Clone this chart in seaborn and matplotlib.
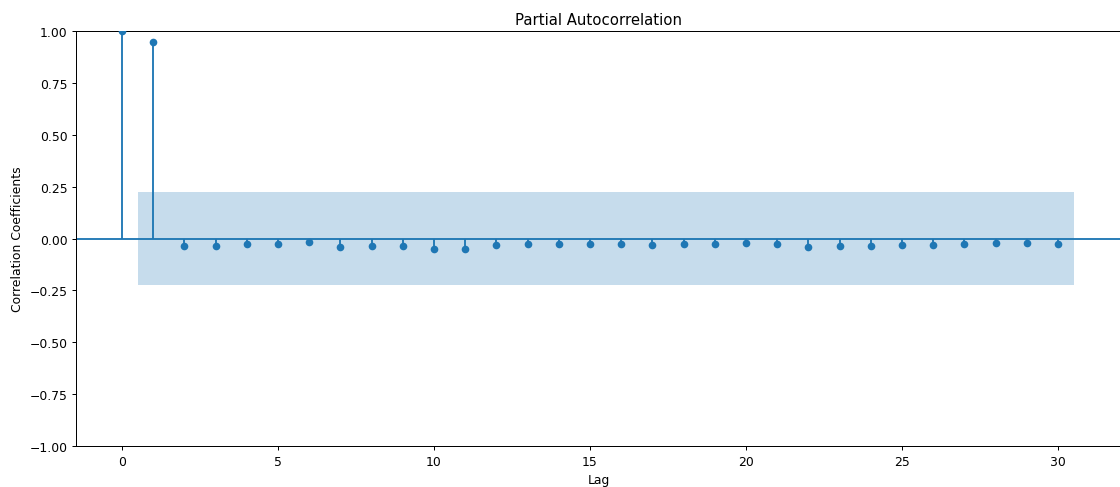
import numpy as np
import pandas as pd
import matplotlib
matplotlib.use("Agg")
import matplotlib.pyplot as plt
import seaborn as sns

# Partial autocorrelation coefficients for lags 0..30
lags = list(range(0, 31))
pacf_values = [
    1.000, 0.945, -0.037, -0.037, -0.028, -0.028, -0.019, -0.042, -0.037, -0.037,
    -0.049, -0.049, -0.032, -0.027, -0.027, -0.027, -0.027, -0.032, -0.027, -0.027,
    -0.021, -0.027, -0.040, -0.037, -0.037, -0.032, -0.032, -0.027, -0.024, -0.024,
    -0.027,
]
conf_half_width = 0.226  # 95% band half width around zero

df = pd.DataFrame({"Lag": lags, "PACF": pacf_values})
color = "#1f77b4"

DPI = 89.3
fig = plt.figure(figsize=(1120 / DPI, 488 / DPI), dpi=DPI)
ax = fig.add_axes([0.0679, 0.0840, 0.9330, 0.8504])

# stems from zero to each coefficient
ax.vlines(df["Lag"], 0, df["PACF"], colors=color, linewidth=1.5)
ax.axhline(0, color=color, linewidth=1.5)

# markers at each coefficient
sns.scatterplot(data=df, x="Lag", y="PACF", ax=ax, color=color, s=38,
                linewidth=0, zorder=3, legend=False)

# confidence band for lags 1..30, extended half a lag on each side
band_x = np.array(lags[1:], dtype=float)
band_x[0] -= 0.5
band_x[-1] += 0.5
ax.fill_between(band_x, -conf_half_width, conf_half_width,
                color=color, alpha=0.25, linewidth=0)

ax.set_xlim(-1.474, 32.02)
ax.set_ylim(-1.0, 1.0)
ax.set_yticks(np.arange(-1.0, 1.01, 0.25))
ax.set_xticks(range(0, 31, 5))
ax.set_title("Partial Autocorrelation", fontsize=12)
ax.set_xlabel("Lag")
ax.set_ylabel("Correlation Coefficients")

fig.savefig("out.png", dpi=DPI)
